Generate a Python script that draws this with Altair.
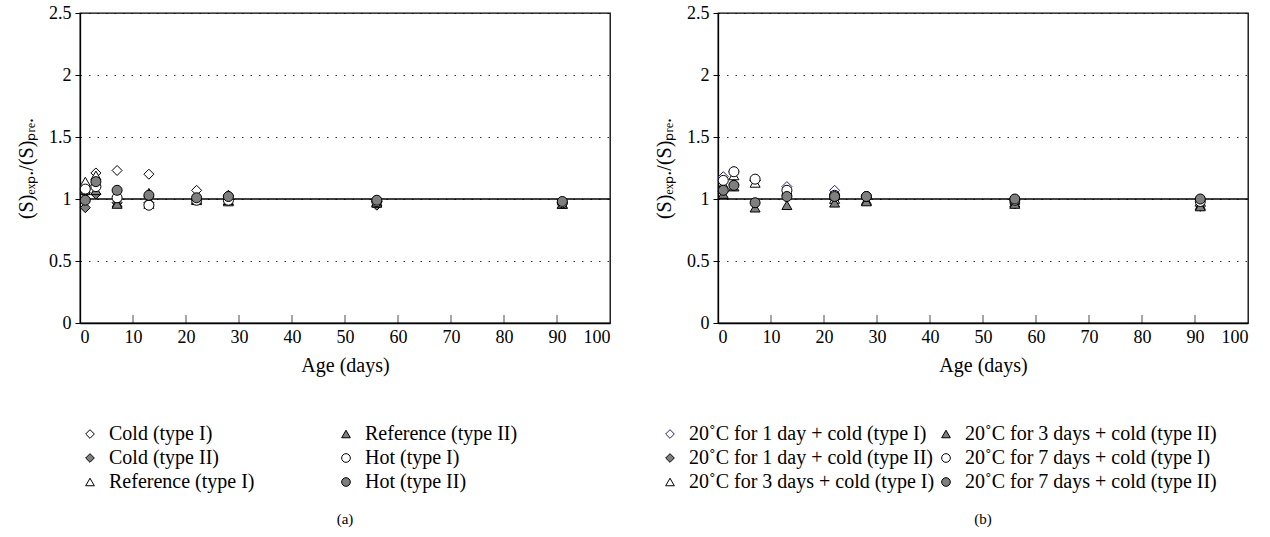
import altair as alt
import pandas as pd

# ---------------- data ----------------
days = [1, 3, 7, 13, 22, 28, 56, 91]

a_names = ["Cold (type I)", "Cold (type II)", "Reference (type I)",
           "Reference (type II)", "Hot (type I)", "Hot (type II)"]
a_cold_1 = [1.05, 1.21, 1.23, 1.20, 1.07, 1.03, 0.98, 0.97]
a_cold_2 = [0.93, 1.04, 0.97, 0.97, 1.00, 1.02, 0.95, 0.96]
a_ref_1 = [1.14, 1.19, 0.97, 0.96, 0.99, 0.98, 0.97, 0.96]
a_ref_2 = [1.07, 1.07, 0.96, 1.05, 1.00, 0.99, 0.97, 0.96]
a_hot_1 = [1.08, 1.10, 1.01, 0.95, 0.99, 0.99, 0.98, 0.97]
a_hot_2 = [0.99, 1.14, 1.07, 1.03, 1.01, 1.02, 0.99, 0.98]

b_names = ["20˚C for 1 day + cold (type I)", "20˚C for 1 day + cold (type II)",
           "20˚C for 3 days + cold (type I)", "20˚C for 3 days + cold (type II)",
           "20˚C for 7 days + cold (type I)", "20˚C for 7 days + cold (type II)"]
b_1d_1 = [1.18, 1.22, 1.15, 1.10, 1.07, 1.02, 0.97, 0.94]
b_1d_2 = [1.06, 1.12, 1.15, 1.04, 1.00, 1.01, 0.96, 0.95]
b_3d_1 = [1.12, 1.19, 1.13, 1.06, 1.00, 0.99, 0.97, 0.95]
b_3d_2 = [1.04, 1.10, 0.93, 0.95, 0.97, 0.98, 0.96, 0.94]
b_7d_1 = [1.15, 1.22, 1.16, 1.07, 1.03, 1.02, 0.99, 0.98]
b_7d_2 = [1.07, 1.11, 0.97, 1.02, 1.02, 1.02, 1.00, 1.00]

x_ticks = [0, 10, 20, 30, 40, 50, 60, 70, 80, 90, 100]
inner_ticks = [10, 20, 30, 40, 50, 60, 70, 80, 90]
y_ticks = [0, 0.5, 1, 1.5, 2, 2.5]
ref_line = [1.0]

shapes = ["diamond", "diamond", "triangle-up", "triangle-up", "circle", "circle"]
fills = ["white", "#7f7f7f", "white", "#7f7f7f", "white", "#7f7f7f"]
strokes_a = ["black"] * 6
strokes_b = ["#22227a", "black", "black", "black", "black", "black"]

SERIF = "Liberation Serif"
YTITLE = "(S)ₑₓₚ./(S)ₚᵣₑ."


def long_df(names, series):
    rows = []
    for n, vals in zip(names, series):
        for d, v in zip(days, vals):
            rows.append({"series": n, "day": d, "val": v})
    return pd.DataFrame(rows)


def panel(names, series, strokes, lx, ly, colpad, caption):
    df = long_df(names, series)
    leg = alt.Legend(title=None, orient="none", legendX=lx, legendY=ly,
                     columns=2, direction="vertical", columnPadding=colpad,
                     rowPadding=4, symbolSize=75, symbolStrokeWidth=1,
                     labelFont=SERIF, labelFontSize=20, labelColor="black",
                     labelOffset=9, labelLimit=400)
    xs = alt.Scale(domain=[0, 100], nice=False)
    ys = alt.Scale(domain=[0, 2.5], nice=False)
    pts = alt.Chart(df).mark_point(filled=True, size=100, strokeWidth=1, opacity=1).encode(
        x=alt.X("day:Q", scale=xs,
                axis=alt.Axis(values=x_ticks, title="Age (days)", ticks=False, grid=False,
                              labelPadding=5, titlePadding=9, format="d")),
        y=alt.Y("val:Q", scale=ys,
                axis=alt.Axis(values=y_ticks, title=YTITLE, format=".1~f", grid=True,
                              gridDash=[1.5, 7], gridColor="black", gridOpacity=0.8,
                              tickSize=5, labelPadding=4, titlePadding=12)),
        shape=alt.Shape("series:N", scale=alt.Scale(domain=names, range=shapes), legend=leg),
        fill=alt.Fill("series:N", scale=alt.Scale(domain=names, range=fills), legend=leg),
        stroke=alt.Stroke("series:N", scale=alt.Scale(domain=names, range=strokes), legend=leg),
    )
    rule = alt.Chart(pd.DataFrame({"v": ref_line})).mark_rule(color="black", strokeWidth=1.3).encode(
        y=alt.Y("v:Q", scale=ys))
    tk = alt.Chart(pd.DataFrame({"t": inner_ticks})).mark_tick(
        orient="vertical", size=8, yOffset=-4, color="black", thickness=1).encode(
        x=alt.X("t:Q", scale=xs), y=alt.datum(0))
    return alt.layer(rule, tk, pts).properties(
        width=530, height=310,
        title=alt.TitleParams(caption, orient="bottom", anchor="middle", font=SERIF,
                              fontSize=15, fontWeight="normal", offset=20))


pa = panel(a_names, [a_cold_1, a_cold_2, a_ref_1, a_ref_2, a_hot_1, a_hot_2],
           strokes_a, 0, 411, 81, "(a)")
pb = panel(b_names, [b_1d_1, b_1d_2, b_3d_1, b_3d_2, b_7d_1, b_7d_2],
           strokes_b, -58, 411, 1, "(b)")

chart = alt.hconcat(pa, pb, spacing=41).resolve_scale(
    shape="independent", fill="independent", stroke="independent"
).resolve_legend(shape="independent", fill="independent", stroke="independent").configure(
    background="white", padding={"left": 15, "top": 3, "right": 5, "bottom": 5}
).configure_view(
    stroke="black", strokeWidth=1.3
).configure_axis(
    domainColor="black", domainWidth=1.3, tickColor="black",
    labelFont=SERIF, labelFontSize=18, labelColor="black",
    titleFont=SERIF, titleFontSize=20, titleFontWeight="normal", titleColor="black"
)

chart.save("out.html", embed_options={"renderer": "svg", "actions": False})
